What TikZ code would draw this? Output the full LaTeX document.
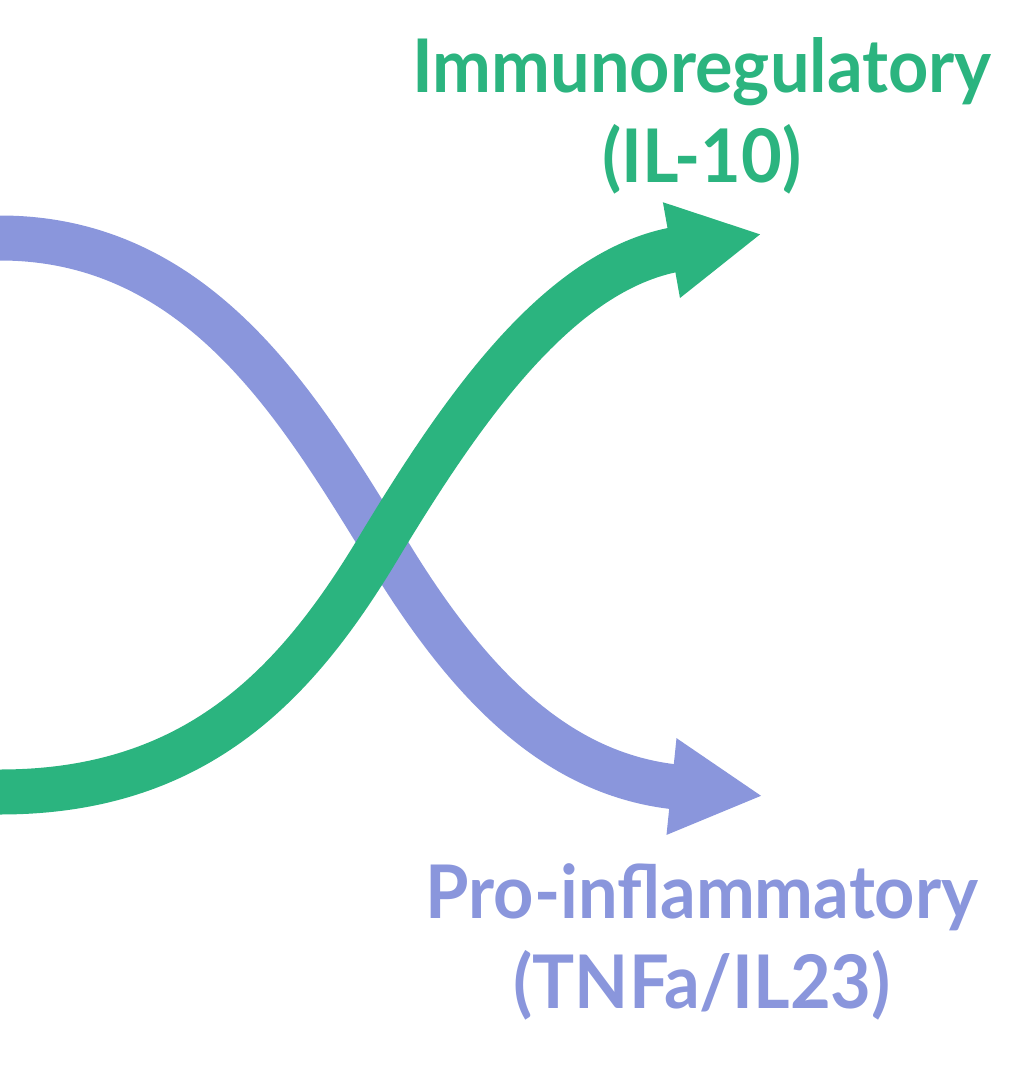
\documentclass[tikz,border=0pt]{standalone}
\usepackage{fontspec}
\setmainfont{Lato}
\usetikzlibrary{arrows.meta}
\definecolor{grn}{RGB}{43,180,127}
\definecolor{prp}{RGB}{138,150,220}
\tikzset{
  band/.style={line width=45pt, -{Triangle[length=92pt,width=90pt]}},
  lbl/.style={align=center, inner sep=0pt, anchor=base, font=\fontsize{74}{90}\selectfont\bfseries, xscale=0.95, transform shape}
}
\begin{document}
\begin{tikzpicture}[x=1pt,y=-1pt]
\useasboundingbox (0,0) rectangle (1035,1075);
\coordinate (pstart) at (0,238);
\coordinate (pend) at (763,796);
\coordinate (gstart) at (0,792);
\coordinate (gend) at (762,234);
\draw[band, prp] (pstart) .. controls (200,238) and (300,410) .. (382,542) .. controls (470,690) and (560,775) .. (pend);
\draw[band, grn] (gstart) .. controls (200,792) and (300,680) .. (382,542) .. controls (465,405) and (560,270) .. (gend);
\node[lbl, text=grn] (imm) at (702,183) {Immunoregulatory\\(IL-10)};
\node[lbl, text=prp] (pro) at (702,1008) {Pro-inflammatory\\(TNFa/IL23)};
\end{tikzpicture}
\end{document}
